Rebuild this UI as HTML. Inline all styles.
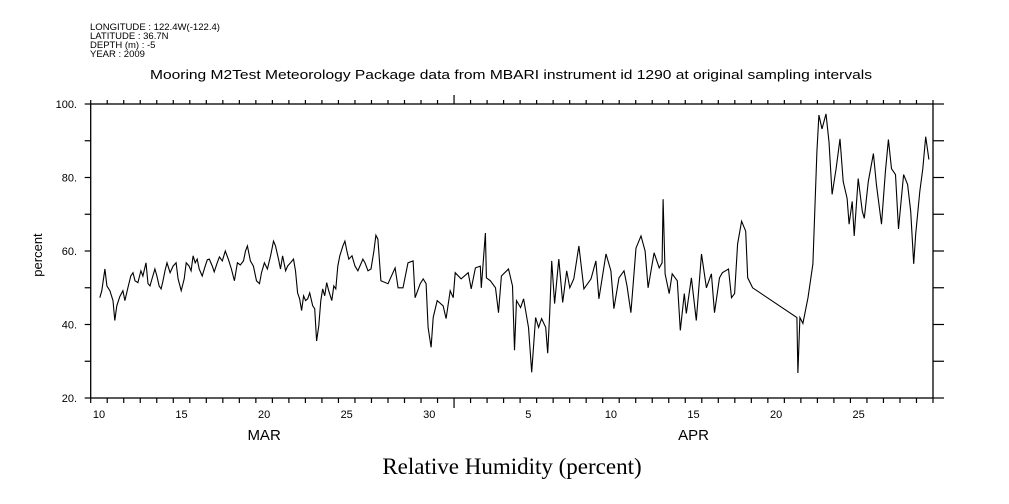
<!DOCTYPE html>
<html><head><meta charset="utf-8"><style>
html,body{margin:0;padding:0;background:#fff;}
svg{display:block;}
text{fill:#000;}
.sm{font-family:"Liberation Sans",sans-serif;font-size:9.5px;}
.tk{font-family:"Liberation Sans",sans-serif;font-size:11px;}
</style></head><body>
<svg id="chart" width="1009" height="504" viewBox="0 0 1009 504" xmlns="http://www.w3.org/2000/svg">
<g>
<text class="sm" x="90" y="30" textLength="130" lengthAdjust="spacingAndGlyphs">LONGITUDE : 122.4W(-122.4)</text>
<text class="sm" x="90" y="39">LATITUDE : 36.7N</text>
<text class="sm" x="90" y="48">DEPTH (m) : -5</text>
<text class="sm" x="90" y="57">YEAR : 2009</text>
</g>
<text x="511" y="79" text-anchor="middle" font-family="Liberation Sans, sans-serif" font-size="12.5" textLength="722" lengthAdjust="spacingAndGlyphs">Mooring M2Test Meteorology Package data from MBARI instrument id 1290 at original sampling intervals</text>
<text x="0" y="0" transform="translate(42,255) rotate(-90)" text-anchor="middle" font-family="Liberation Sans, sans-serif" font-size="13">percent</text>
<text x="512" y="474" text-anchor="middle" font-family="Liberation Serif, serif" font-size="23">Relative Humidity (percent)</text>
<g id="axes"></g>
<g id="series"></g>
</svg>
<script>
const days = [10.55,10.67,10.86,10.98,11.16,11.35,11.46,11.58,11.76,11.95,12.07,12.25,12.43,12.56,12.68,12.86,13.04,13.16,13.35,13.47,13.59,13.71,13.89,14.01,14.14,14.26,14.38,14.50,14.62,14.81,14.99,15.17,15.29,15.48,15.66,15.78,15.96,16.08,16.20,16.33,16.45,16.57,16.75,16.93,17.06,17.18,17.36,17.48,17.66,17.79,17.97,18.15,18.33,18.52,18.70,18.88,19.06,19.25,19.37,19.49,19.67,19.85,20.04,20.22,20.34,20.52,20.70,20.89,21.07,21.19,21.37,21.49,21.62,21.80,21.92,22.10,22.28,22.40,22.53,22.65,22.77,22.89,23.01,23.14,23.26,23.44,23.56,23.68,23.81,23.93,24.05,24.17,24.29,24.41,24.60,24.72,24.84,24.96,25.08,25.27,25.39,25.51,25.63,25.82,26.00,26.18,26.30,26.48,26.61,26.79,26.97,27.15,27.27,27.39,27.57,28.00,28.43,28.61,28.91,29.21,29.52,29.64,29.95,30.13,30.31,30.43,30.61,30.74,30.98,31.34,31.52,31.77,31.95,32.07,32.43,32.86,33.04,33.29,33.59,33.65,33.90,33.96,34.20,34.51,34.69,34.87,35.30,35.54,35.66,35.78,36.03,36.21,36.51,36.70,36.94,37.12,37.30,37.55,37.67,37.79,37.91,38.09,38.34,38.58,38.82,39.01,39.25,39.56,39.86,40.29,40.59,40.77,41.20,41.50,41.68,41.99,42.29,42.47,42.71,43.02,43.32,43.57,43.75,44.11,44.42,44.60,44.66,44.78,45.03,45.21,45.52,45.70,45.94,46.06,46.37,46.67,46.98,47.28,47.58,47.77,48.07,48.25,48.62,48.80,48.99,49.17,49.41,49.66,49.78,50.08,52.76,52.82,52.94,53.12,53.43,53.73,53.97,54.09,54.28,54.52,54.70,54.89,55.13,55.37,55.56,55.80,55.92,56.11,56.23,56.47,56.72,56.84,57.08,57.39,57.57,57.88,58.12,58.30,58.49,58.73,58.91,59.22,59.46,59.65,59.83,59.95,60.20,60.38,60.56,60.75];
const humidity = [47.3,49.2,55.1,50.5,49.2,46.5,41.1,45.1,47.6,49.2,46.5,50.0,53.2,54.1,51.9,51.4,54.6,53.2,56.8,51.1,50.5,52.4,55.1,53.2,50.5,49.7,51.9,54.6,56.8,54.1,55.9,56.8,52.4,49.2,52.4,56.8,55.9,54.6,58.7,56.8,57.8,55.1,53.2,55.9,57.6,57.8,55.9,54.3,56.8,58.4,57.3,60.0,57.8,55.1,51.9,56.8,56.2,57.3,60.0,61.4,57.3,55.9,51.9,51.1,54.1,56.8,55.1,58.7,62.7,61.4,57.8,55.1,58.7,54.6,55.9,56.8,57.8,54.6,48.6,47.0,43.8,47.8,46.5,47.0,48.6,45.1,44.3,35.5,39.7,46.5,49.7,47.8,51.4,49.2,46.5,50.5,49.7,55.9,58.7,61.4,62.7,60.0,57.8,58.7,55.9,54.6,55.9,57.8,56.8,54.6,55.1,60.0,64.3,63.2,51.9,51.1,55.4,50.0,50.0,56.8,57.3,47.3,51.1,52.4,51.1,39.2,33.8,41.9,46.5,45.1,41.6,49.2,47.3,54.1,52.4,54.1,49.7,55.4,55.9,50.0,64.9,52.7,51.9,50.0,43.2,53.2,55.1,50.5,33.0,46.5,44.6,47.0,39.2,27.0,41.9,39.2,41.6,39.2,32.2,43.0,57.3,45.7,57.8,46.0,54.6,50.0,52.4,61.4,49.7,52.4,57.3,47.0,59.2,54.6,44.3,52.7,54.6,50.5,43.2,60.8,64.1,60.0,50.0,59.5,55.4,56.8,74.1,53.8,48.4,53.8,51.9,38.4,48.4,43.0,52.7,41.1,59.2,50.0,53.8,43.2,52.7,54.1,55.1,47.3,48.4,61.9,68.1,65.4,52.7,50.0,41.9,26.8,41.9,40.3,47.3,56.5,87.0,97.0,93.2,97.3,89.7,75.4,82.4,90.5,78.9,74.3,67.3,73.5,64.1,79.7,70.8,68.9,78.9,86.5,78.1,67.3,81.6,90.3,82.4,80.8,66.0,80.8,78.1,70.8,56.5,64.6,76.2,82.4,91.1,84.9];
const yTicks = [20,30,40,50,60,70,80,90,100];
const yLabels = ["20.","","40.","","60.","","80.","","100."];
const xLabelDays = [10,15,20,25,30,36,41,46,51,56];
const xLabels = ["10","15","20","25","30","5","10","15","20","25"];
const monthDays = [20.5,46.5];
const monthLabels = ["MAR","APR"];
const monthStart = 32;

const NS="http://www.w3.org/2000/svg";
const L=90.7,R=933,T=104,B=398;
const D0=10,D1=61,Y0=20,Y1=100;
const xs=d=>L+(d-D0)/(D1-D0)*(R-L);
const ys=v=>B-(v-Y0)/(Y1-Y0)*(B-T);
const axes=document.getElementById('axes');
const series=document.getElementById('series');
function mk(tag,attrs,parent){const e=document.createElementNS(NS,tag);for(const k in attrs)e.setAttribute(k,attrs[k]);parent.appendChild(e);return e;}

const frame=mk('rect',{x:L,y:T,width:R-L,height:B-T,fill:'none',stroke:'#000','stroke-width':1.3},axes);



for(let d=D0; d<=D1; d++){
  const x=xs(d);
  const big=(d===monthStart);
  const tb=mk('line',{x1:x,x2:x,y1:B,y2:B+(big?10:5),stroke:'#000','stroke-width':1.2},axes);
  
  
  const tt=mk('line',{x1:x,x2:x,y1:T,y2:T-(big?9:4),stroke:'#000','stroke-width':1.2},axes);
  
  
}
xLabelDays.forEach((d,i)=>{
  const t=mk('text',{x:xs(d+0.5),y:418,'text-anchor':'middle',class:'tk'},axes);
  t.textContent=xLabels[i];
  
  
});
monthDays.forEach((d,i)=>{
  const t=mk('text',{x:xs(d),y:440,'text-anchor':'middle','font-family':'Liberation Sans, sans-serif','font-size':'15'},axes);
  t.textContent=monthLabels[i];
  
  
});
yTicks.forEach((v,i)=>{
  const y=ys(v);
  const a=mk('line',{x1:L-6,x2:L,y1:y,y2:y,stroke:'#000','stroke-width':1.2},axes);
  
  
  const b=mk('line',{x1:R,x2:R+11,y1:y,y2:y,stroke:'#000','stroke-width':1.2},axes);
  
  
  if(yLabels[i]){
    const t=mk('text',{x:77,y:y+4,'text-anchor':'end',class:'tk'},axes);
    t.textContent=yLabels[i];
    
    
  }
});
let dstr='';
days.forEach((d,i)=>{dstr+=(i?'L':'M')+xs(d).toFixed(1)+' '+ys(humidity[i]).toFixed(1);});
const line=mk('path',{d:dstr,fill:'none',stroke:'#000','stroke-width':1.1,'stroke-linejoin':'miter'},series);


</script>
</body></html>
